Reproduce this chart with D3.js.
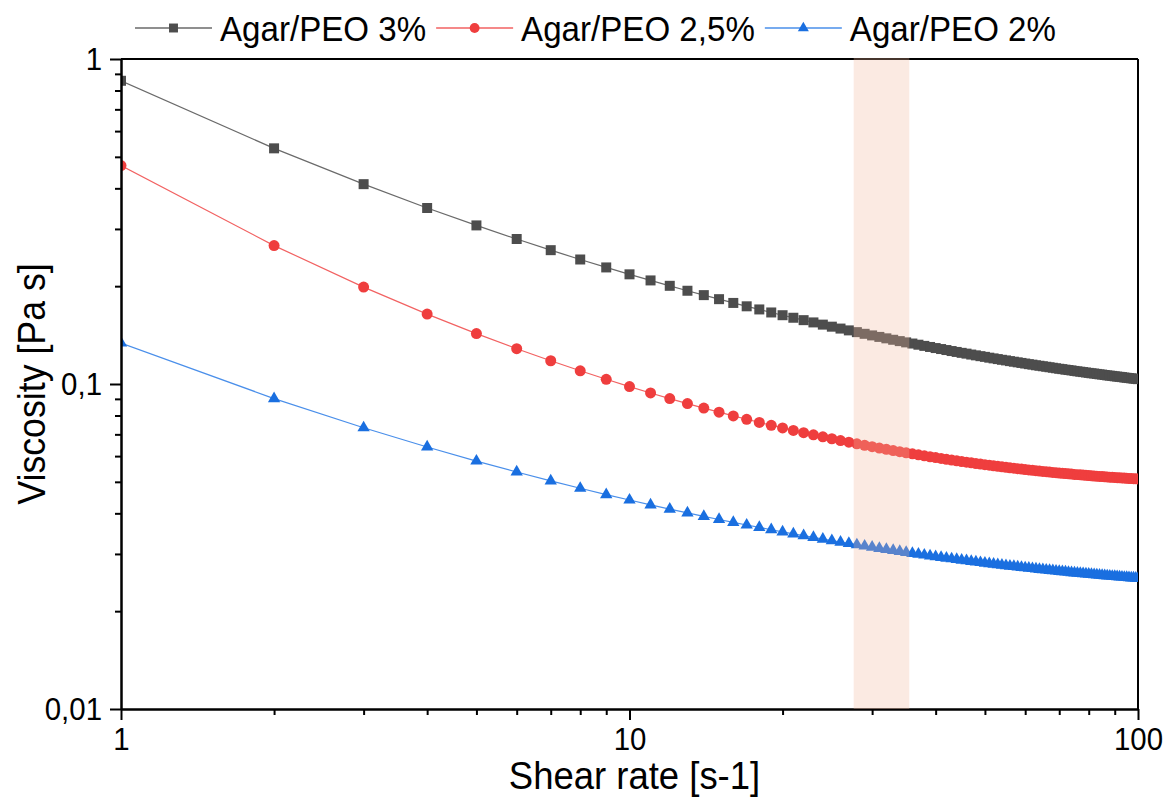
<!DOCTYPE html>
<html>
<head>
<meta charset="utf-8">
<script src="https://cdn.jsdelivr.net/npm/d3@7"></script>
<style>
  body { margin: 0; background: #fff; }
  svg { display: block; font-family: "Liberation Sans", Arial, sans-serif; }
</style>
</head>
<body>
<div id="chart"></div>
<script>
// shear rate [s-1]
const shearRate = [1,2,3,4,5,6,7,8,9,10,11,12,13,14,15,16,17,18,19,20,
  21,22,23,24,25,26,27,28,29,30,31,32,33,34,35,36,37,38,39,40,
  41,42,43,44,45,46,47,48,49,50,51,52,53,54,55,56,57,58,59,60,
  61,62,63,64,65,66,67,68,69,70,71,72,73,74,75,76,77,78,79,80,
  81,82,83,84,85,86,87,88,89,90,91,92,93,94,95,96,97,98,99,100];

// viscosity [Pa s]
const visc3 = [0.857,0.531,0.412,0.348,0.3076,0.2793,0.2581,0.2416,0.2284,0.2175,
  0.2083,0.2005,0.1936,0.1877,0.1824,0.1776,0.1734,0.1696,0.1660,0.1628,
  0.1599,0.1572,0.1547,0.1523,0.1501,0.1481,0.1462,0.1444,0.1427,0.1411,
  0.1396,0.1382,0.1368,0.1355,0.1343,0.1332,0.1321,0.1310,0.1300,0.1290,
  0.1281,0.1272,0.1263,0.1255,0.1247,0.1240,0.1232,0.1225,0.1218,0.1212,
  0.1205,0.1199,0.1193,0.1187,0.1182,0.1176,0.1171,0.1166,0.1161,0.1156,
  0.1151,0.1147,0.1142,0.1138,0.1134,0.1130,0.1126,0.1122,0.1118,0.1114,
  0.1111,0.1107,0.1104,0.1101,0.1097,0.1094,0.1091,0.1088,0.1085,0.1082,
  0.1079,0.1077,0.1074,0.1071,0.1069,0.1066,0.1063,0.1061,0.1059,0.1056,
  0.1054,0.1052,0.1050,0.1047,0.1045,0.1043,0.1041,0.1039,0.1037,0.1035];

const visc25 = [0.470,0.2666,0.1987,0.1641,0.1429,0.1284,0.1179,0.1098,0.1034,0.0982,
  0.09384,0.09017,0.08704,0.0843,0.0819,0.07978,0.07788,0.07618,0.07465,0.07326,
  0.07199,0.07083,0.06975,0.06877,0.06785,0.0670,0.06621,0.06547,0.06478,0.06413,
  0.06352,0.06295,0.06241,0.0619,0.06142,0.06097,0.06053,0.06012,0.05973,0.05936,
  0.05901,0.05867,0.05835,0.05804,0.05775,0.05747,0.0572,0.05694,0.05669,0.05646,
  0.05625,0.05603,0.05582,0.05562,0.05543,0.05524,0.05506,0.05489,0.05472,0.05456,
  0.05441,0.05426,0.05411,0.05397,0.05384,0.05371,0.05358,0.05346,0.05334,0.05323,
  0.05312,0.05301,0.05291,0.05281,0.05271,0.05262,0.05253,0.05244,0.05235,0.05227,
  0.05219,0.05211,0.05204,0.05196,0.05189,0.05182,0.05176,0.05169,0.05163,0.05157,
  0.05151,0.05145,0.0514,0.05135,0.05129,0.05124,0.05119,0.05114,0.0511,0.05105];

const visc2 = [0.1337,0.09019,0.07334,0.0640,0.05793,0.05362,0.05034,0.04777,0.04568,0.04395,
  0.04248,0.04122,0.04012,0.03915,0.03829,0.03752,0.03682,0.03619,0.03561,0.03508,
  0.03459,0.03414,0.03372,0.03333,0.03297,0.03263,0.03231,0.03201,0.03173,0.03146,
  0.03121,0.03097,0.03075,0.03053,0.03033,0.03013,0.02995,0.02977,0.0296,0.02944,
  0.02928,0.02913,0.02899,0.02885,0.02872,0.02859,0.02847,0.02835,0.02823,0.02812,
  0.02802,0.02791,0.02781,0.02772,0.02762,0.02753,0.02745,0.02736,0.02728,0.0272,
  0.02712,0.02705,0.02698,0.0269,0.02683,0.02677,0.0267,0.02664,0.02658,0.02652,
  0.02646,0.0264,0.02634,0.02629,0.02624,0.02618,0.02613,0.02608,0.02603,0.02599,
  0.02594,0.0259,0.02585,0.02581,0.02577,0.02573,0.02569,0.02565,0.02561,0.02557,
  0.02554,0.0255,0.02547,0.02543,0.0254,0.02537,0.02533,0.0253,0.02527,0.02523];

const seriesNames = ['Agar/PEO 3%', 'Agar/PEO 2,5%', 'Agar/PEO 2%'];
const xMajorTicks = [1, 10, 100];
const xMinorTicks = [2,3,4,5,6,7,8,9,20,30,40,50,60,70,80,90];
const yMajorTicks = [0.01, 0.1, 1];
const yMajorLabels = ['0,01', '0,1', '1'];
const yMinorTicks = [0.02,0.03,0.04,0.05,0.06,0.07,0.08,0.09,0.2,0.3,0.4,0.5,0.6,0.7,0.8,0.9];
const bandRange = [27.6, 35.5];

const width = 1169;
const height = 799;
const margin = { top: 59, right: 31, bottom: 90, left: 121 };
const innerWidth = width - margin.left - margin.right;
const innerHeight = height - margin.top - margin.bottom;

// the original lettering is a little taller than Arial at the same width
const squeeze = 0.92;

const svg = d3.select('#chart')
  .append('svg')
  .attr('width', width)
  .attr('height', height);

svg.append('defs').append('clipPath')
  .attr('id', 'plot-clip')
  .append('rect')
  .attr('width', innerWidth)
  .attr('height', innerHeight);

const g = svg.append('g')
  .attr('transform', `translate(${margin.left},${margin.top})`);

const xScale = d3.scaleLog().domain([1, 100]).range([0, innerWidth]);
const yScale = d3.scaleLog().domain([0.01, 1]).range([innerHeight, 0]);

const series = [
  { name: seriesNames[0], values: visc3, color: '#4d4d4d', line: '#6a6a6a', symbol: d3.symbolSquare, size: 100 },
  { name: seriesNames[1], values: visc25, color: '#ef3e3e', line: '#f26262', symbol: d3.symbolCircle, size: 95 },
  { name: seriesNames[2], values: visc2, color: '#1a6fe0', line: '#4a8fea', symbol: d3.symbolTriangle, size: 66 }
];

const line = d3.line()
  .x((d, i) => xScale(shearRate[i]))
  .y(d => yScale(d));

// frame: top and right lines
g.append('line').attr('x1', 0).attr('x2', innerWidth).attr('y1', 0).attr('y2', 0)
  .attr('stroke', '#000').attr('stroke-width', 2);
g.append('line').attr('x1', innerWidth).attr('x2', innerWidth).attr('y1', 0).attr('y2', innerHeight)
  .attr('stroke', '#000').attr('stroke-width', 2);

const plot = g.append('g').attr('clip-path', 'url(#plot-clip)');

series.forEach(s => {
  plot.append('path')
    .datum(s.values)
    .attr('fill', 'none')
    .attr('stroke', s.line)
    .attr('stroke-width', 1.2)
    .attr('d', line);

  plot.selectAll(null)
    .data(s.values)
    .enter()
    .append('path')
    .attr('transform', (d, i) => `translate(${xScale(shearRate[i])},${yScale(d)})`)
    .attr('d', d3.symbol().type(s.symbol).size(s.size))
    .attr('fill', s.color);
});

// axes
function styleAxis(sel) {
  sel.selectAll('path.domain').attr('stroke', '#000').attr('stroke-width', 2);
  sel.selectAll('.tick line').attr('stroke', '#000').attr('stroke-width', 2);
  sel.selectAll('.tick text').attr('fill', '#000').attr('font-size', 32)
    .attr('font-family', '"Liberation Sans", Arial, sans-serif');
}

g.append('g')
  .attr('transform', `translate(0,${innerHeight})`)
  .call(d3.axisBottom(xScale).tickValues(xMinorTicks).tickSize(6).tickSizeOuter(0).tickFormat(''))
  .call(styleAxis)
  .selectAll('.tick text').remove();

const xAxis = g.append('g')
  .attr('transform', `translate(0,${innerHeight})`)
  .call(d3.axisBottom(xScale).tickValues(xMajorTicks).tickSize(11).tickSizeOuter(0)
    .tickFormat(d3.format('d')).tickPadding(7))
  .call(styleAxis);
xAxis.selectAll('.tick text').attr('transform', `scale(${squeeze},1)`);

g.append('g')
  .call(d3.axisLeft(yScale).tickValues(yMinorTicks).tickSize(6).tickSizeOuter(0).tickFormat(''))
  .call(styleAxis)
  .selectAll('.tick text').remove();

const yAxis = g.append('g')
  .call(d3.axisLeft(yScale).tickValues(yMajorTicks).tickSize(11).tickSizeOuter(0)
    .tickFormat((d, i) => yMajorLabels[i]).tickPadding(7))
  .call(styleAxis);
yAxis.selectAll('.tick text')
  .attr('x', -19 / squeeze)
  .attr('transform', `scale(${squeeze},1)`);

// highlighted shear-rate window, drawn over the data
g.append('rect')
  .attr('x', xScale(bandRange[0]))
  .attr('width', xScale(bandRange[1]) - xScale(bandRange[0]))
  .attr('y', -1)
  .attr('height', innerHeight + 1)
  .attr('fill', 'rgb(241,183,156)')
  .attr('opacity', 0.29);

// axis titles
svg.append('g')
  .attr('transform', `translate(${margin.left + innerWidth / 2 + 5},789)`)
  .append('text')
  .attr('transform', 'scale(0.96,1)')
  .attr('text-anchor', 'middle')
  .attr('font-size', 38)
  .text('Shear rate [s-1]');

svg.append('g')
  .attr('transform', `translate(45,${margin.top + innerHeight / 2}) rotate(-90)`)
  .append('text')
  .attr('transform', 'scale(0.94,1)')
  .attr('text-anchor', 'middle')
  .attr('font-size', 38)
  .text('Viscosity [Pa s]');

// legend
const legend = svg.append('g').attr('transform', 'translate(135,28)');
let lx = 0;
series.forEach(s => {
  legend.append('line')
    .attr('x1', lx).attr('x2', lx + 77).attr('y1', 0).attr('y2', 0)
    .attr('stroke', s.line).attr('stroke-width', 1.5);
  legend.append('path')
    .attr('transform', `translate(${lx + 38.5},0)`)
    .attr('d', d3.symbol().type(s.symbol).size(s.size * 0.8))
    .attr('fill', s.color);
  const t = legend.append('g')
    .attr('transform', `translate(${lx + 85},13)`)
    .append('text')
    .attr('transform', `scale(${squeeze},1)`)
    .attr('font-size', 36)
    .text(s.name);
  lx += 85 + t.node().getComputedTextLength() * squeeze + 10;
});
</script>
</body>
</html>
